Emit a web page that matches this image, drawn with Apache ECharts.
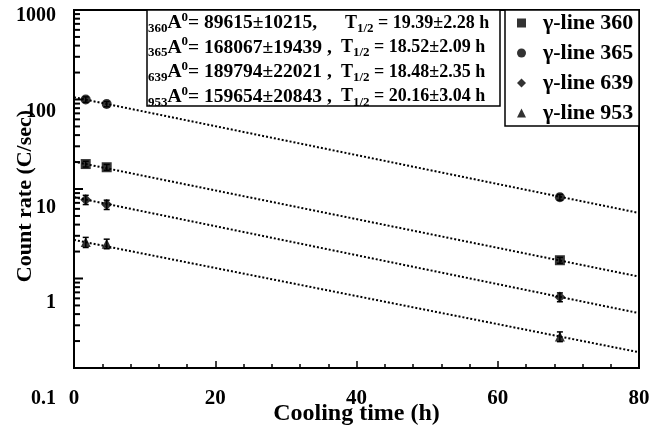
<!DOCTYPE html>
<html><head><meta charset="utf-8">
<script src="https://cdn.jsdelivr.net/npm/echarts@6/dist/echarts.min.js"></script>
<style>html,body{margin:0;padding:0;background:#fff}#c{width:650px;height:429px}</style>
</head><body><div id="c"></div>
<script>
const lineNames = ['γ-line 360', 'γ-line 365', 'γ-line 639', 'γ-line 953'];
const lineSymbols = ['rect', 'circle', 'diamond', 'triangle'];
const coolingTimes = [1.66, 4.63, 68.8];
const rate360 = [19, 17.5, 1.6];
const err360 = [1.4, 1.3, 0.12];
const rate365 = [100, 89, 8.1];
const err365 = [7, 6, 0.6];
const rate639 = [7.6, 6.7, 0.62];
const err639 = [0.9, 0.8, 0.07];
const rate953 = [2.55, 2.45, 0.225];
const err953 = [0.33, 0.3, 0.028];
const fitTimes = [0, 80];
const fit360 = [20.2, 1.05];
const fit365 = [106, 5.4];
const fit639 = [8.1, 0.41];
const fit953 = [2.7, 0.15];
const xTickLabels = [0, 20, 40, 60, 80];
const yTickLabels = [0.1, 1, 10, 100, 1000];
const fitLines = ['360', '365', '639', '953'];
const fitA0 = ['89615±10215,', '168067±19439 ,', '189794±22021 ,', '159654±20843 ,'];
const fitHalfLife = ['19.39±2.28', '18.52±2.09', '18.48±2.35', '20.16±3.04'];

const FONT = 'Liberation Serif';
const rates = [rate360, rate365, rate639, rate953];
const errs = [err360, err365, err639, err953];
const fits = [fit360, fit365, fit639, fit953];

// y-axis tick marks: decades (long) and 2..9 (short)
const yTickMarks = [];
for (let i = 0; i < yTickLabels.length; i++) {
  yTickMarks.push([0, yTickLabels[i], 9]);
  if (i < yTickLabels.length - 1) {
    for (let k = 2; k <= 9; k++) yTickMarks.push([0, +(k * yTickLabels[i]).toFixed(3), 6]);
  }
}

const series = [];
fits.forEach((f, i) => {
  series.push({
    name: 'fit' + i, type: 'line',
    data: fitTimes.map((t, j) => [t, f[j]]),
    symbol: 'none', silent: true, z: 1,
    lineStyle: { color: '#000', width: 2, type: [2, 2] }
  });
});
rates.forEach((r, i) => {
  series.push({
    name: 'err' + i, type: 'custom', z: 2, silent: true,
    encode: { x: 0, y: [1, 2] },
    data: coolingTimes.map((t, j) => [t, r[j] - errs[i][j], r[j] + errs[i][j]]),
    renderItem: function (params, api) {
      const x = api.value(0);
      const p1 = api.coord([x, api.value(1)]);
      const p2 = api.coord([x, api.value(2)]);
      const w = 3, st = { stroke: '#000', lineWidth: 1.5 };
      return { type: 'group', children: [
        { type: 'line', shape: { x1: p1[0], y1: p1[1], x2: p2[0], y2: p2[1] }, style: st },
        { type: 'line', shape: { x1: p1[0] - w, y1: p1[1], x2: p1[0] + w, y2: p1[1] }, style: st },
        { type: 'line', shape: { x1: p2[0] - w, y1: p2[1], x2: p2[0] + w, y2: p2[1] }, style: st }
      ]};
    }
  });
  series.push({
    name: lineNames[i], type: 'scatter', z: 3,
    symbol: lineSymbols[i], symbolSize: i === 2 ? 11 : 10,
    itemStyle: { color: '#000' },
    data: coolingTimes.map((t, j) => [t, r[j]])
  });
});
series.push({
  name: 'yTicks', type: 'custom', silent: true, z: 20, clip: false,
  encode: { x: 0, y: 1 },
  data: yTickMarks,
  renderItem: function (params, api) {
    const p = api.coord([api.value(0), api.value(1)]);
    const len = api.value(2);
    return { type: 'line', shape: { x1: p[0], y1: p[1], x2: p[0] + len, y2: p[1] },
      style: { stroke: '#000', lineWidth: 2 } };
  }
});

const graphics = [
  { type: 'rect', shape: { x: 147, y: 10, width: 353, height: 96 }, style: { fill: '#fff', stroke: '#000', lineWidth: 1.5 }, z: 10 },
  { type: 'rect', shape: { x: 505, y: 10, width: 134, height: 116 }, style: { fill: '#fff', stroke: '#000', lineWidth: 1.5 }, z: 10 }
];
function richFor(size) {
  return {
    m: { fontFamily: FONT, fontWeight: 'bold', fontSize: size, lineHeight: 24, color: '#000' },
    s: { fontFamily: FONT, fontWeight: 'bold', fontSize: 13, lineHeight: 12, verticalAlign: 'bottom', color: '#000' },
    p: { fontFamily: FONT, fontWeight: 'bold', fontSize: 13, lineHeight: 12, verticalAlign: 'top', color: '#000' }
  };
}
fitLines.forEach((ln, i) => {
  const y = 23 + 24.6 * i;
  graphics.push({ type: 'text', z: 11, x: 148, y: y, style: {
    text: '{s|' + ln + '}{m|A}{p|0}{m|= ' + fitA0[i] + '}', verticalAlign: 'middle', rich: richFor(19.5) } });
  graphics.push({ type: 'text', z: 11, x: i === 0 ? 345 : 341, y: y, style: {
    text: '{m|T}{s|1/2}{m| = ' + fitHalfLife[i] + ' h}', verticalAlign: 'middle', rich: richFor(18) } });
});

const labelStyle = { fontFamily: FONT, fontWeight: 'bold', color: '#000' };
// y tick labels in the reference sit progressively lower than their ticks
const yLabelShift = [31, 24.5, 18.5, 12.25, 6];
const yLabelRich = {};
yLabelShift.forEach((d, i) => {
  yLabelRich['a' + i] = { fontFamily: FONT, fontWeight: 'bold', fontSize: 20, color: '#000',
    padding: [2 * d, 0, 0, 0] };
});

const chart = echarts.init(document.getElementById('c'), null, { renderer: 'canvas' });
chart.setOption({
  animation: false,
  backgroundColor: '#fff',
  grid: { left: 74, right: 11, top: 10, bottom: 61, show: true, borderColor: '#000', borderWidth: 2,
    backgroundColor: 'transparent', outerBoundsMode: 'none', containLabel: false },
  legend: {
    data: lineNames, orient: 'vertical', left: 517, top: 12, itemGap: 8, padding: 0,
    itemWidth: 9, itemHeight: 9, z: 12,
    textStyle: Object.assign({ fontSize: 22, padding: [0, 0, 0, 12] }, labelStyle)
  },
  xAxis: {
    type: 'value', min: xTickLabels[0], max: xTickLabels[xTickLabels.length - 1], interval: 20,
    name: 'Cooling time (h)', nameLocation: 'middle', nameGap: 34, nameMoveOverlap: false,
    nameTextStyle: Object.assign({ fontSize: 24 }, labelStyle),
    axisLine: { lineStyle: { color: '#000', width: 2 } },
    axisTick: { inside: true, length: 7, lineStyle: { color: '#000', width: 1.5 } },
    minorTick: { show: true, splitNumber: 5, length: 4, lineStyle: { color: '#000', width: 1.5 } },
    splitLine: { show: false },
    axisLabel: Object.assign({ fontSize: 21, margin: 20 }, labelStyle)
  },
  yAxis: {
    type: 'log', logBase: 10, min: yTickLabels[0], max: yTickLabels[yTickLabels.length - 1],
    position: 'left',
    name: 'Count rate (C/sec)', nameLocation: 'middle', nameGap: 38, nameRotate: 90, nameMoveOverlap: false,
    nameTextStyle: Object.assign({ fontSize: 22, padding: [0, 14, 0, 0] }, labelStyle),
    axisLine: { show: true, lineStyle: { color: '#000', width: 2 } },
    axisTick: { show: false },
    splitLine: { show: false },
    axisLabel: Object.assign({
      fontSize: 20, margin: 18, hideOverlap: false, rich: yLabelRich,
      formatter: v => '{a' + (Math.round(Math.log10(v)) + 1) + '|' + String(v) + '}'
    }, labelStyle)
  },
  series: series,
  graphic: graphics
});
</script></body></html>
